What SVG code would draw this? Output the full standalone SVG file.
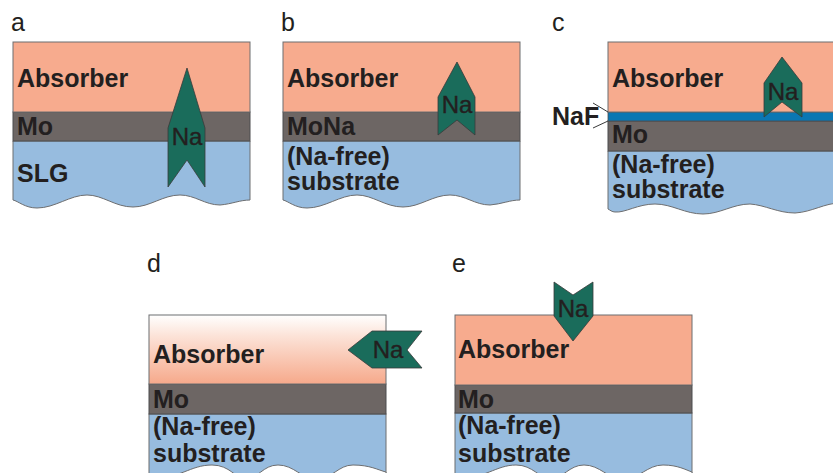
<svg xmlns="http://www.w3.org/2000/svg" width="833" height="473" viewBox="0 0 833 473">
<style>
.abs{fill:#f7ab8e;stroke:#6d6e70;stroke-width:1}
.mo{fill:#6d6664;stroke:#4d4d4f;stroke-width:1}
.sub{fill:#97bcdf;stroke:#6d6e70;stroke-width:1}
.naf{fill:#0a77b3;stroke:#4d4d4f;stroke-width:0.8}
.na{fill:#1a6c5b;stroke:#3a3a3a;stroke-width:0.8}
.wh{fill:#ffffff;stroke:#6d6e70;stroke-width:1}
.lbl{font-family:"Liberation Sans",Arial,sans-serif;font-weight:bold;font-size:25px;fill:#231f20}
.let{font-family:"Liberation Sans",Arial,sans-serif;font-size:25px;fill:#231f20}
.nat{font-family:"Liberation Sans",Arial,sans-serif;font-size:24px;fill:#231f20;text-anchor:middle;stroke:#231f20;stroke-width:0.4}
.ln{fill:none;stroke:#3a3a3a;stroke-width:1}
</style>
<defs>
<linearGradient id="gd" x1="0" y1="0" x2="0" y2="1">
<stop offset="0" stop-color="#ffffff"/>
<stop offset="0.3" stop-color="#fce3d8"/>
<stop offset="1" stop-color="#f6a98b"/>
</linearGradient>
</defs>

<g id="panel-a">
<text class="let" x="11" y="31">a</text>
<path class="sub" d="M13,141 H250 V200 C240,200 232,204 220,205 C205,205 195,195 180,195 C163,195 150,207 133,207 C115,207 103,195 87,195 C70,195 55,208 37,208 C25,208 18,201 13,200 Z"/>
<rect class="mo" x="13" y="112" width="237" height="29"/>
<rect class="abs" x="13" y="42" width="237" height="70"/>
<text class="lbl" x="17" y="87">Absorber</text>
<text class="lbl" x="17" y="135">Mo</text>
<text class="lbl" x="17" y="182">SLG</text>
<polygon class="na" points="187,68 205,128 205,187 187,160 168,187 168,128"/>
<text class="nat" x="187" y="145">Na</text>
</g>

<g id="panel-b">
<text class="let" x="281" y="31">b</text>
<path class="sub" d="M283,141 H520 V200 C510,200 502,204 490,205 C475,205 465,195 450,195 C433,195 420,207 403,207 C385,207 373,195 357,195 C340,195 325,208 307,208 C295,208 288,201 283,200 Z"/>
<rect class="mo" x="283" y="112" width="237" height="29"/>
<rect class="abs" x="283" y="42" width="237" height="70"/>
<text class="lbl" x="287" y="87">Absorber</text>
<text class="lbl" x="287" y="135">MoNa</text>
<text class="lbl" x="287" y="165">(Na-free)</text>
<text class="lbl" x="287" y="190">substrate</text>
<polygon class="na" points="457,62 475,97 475,135 457,120 438,135 438,97"/>
<text class="nat" x="457" y="113">Na</text>
</g>

<g id="panel-c">
<text class="let" x="552" y="31">c</text>
<path class="sub" d="M608,151 H840 V203 C825,203 812,212 795,213 C778,213 765,205 750,204 C733,204 720,214 703,214 C685,214 672,204 655,204 C638,204 625,213 615,212 C612,212 610,210 608,209 Z"/>
<rect class="mo" x="608" y="121" width="232" height="30"/>
<rect class="naf" x="608" y="112" width="232" height="9"/>
<rect class="abs" x="608" y="42" width="232" height="70"/>
<text class="lbl" x="612" y="87">Absorber</text>
<text class="lbl" x="612" y="143">Mo</text>
<text class="lbl" x="612" y="173">(Na-free)</text>
<text class="lbl" x="612" y="198">substrate</text>
<polygon class="na" points="782,57 802,83 802,117 782,102 764,117 764,83"/>
<text class="nat" x="783" y="100">Na</text>
<text class="lbl" x="552" y="125">NaF</text>
</g>

<g id="panel-d">
<text class="let" x="147" y="272">d</text>
<rect class="sub" x="149" y="414" width="237" height="70"/>
<path class="wh" d="M149,482 V479 C180,479 190,465 212,465 C230,465 236,479 245,479 C258,479 263,465 278,465 C294,465 302,479 315,479 C333,479 338,465 353,465 C370,465 378,470 386,472 V482 Z"/>
<rect class="mo" x="149" y="384" width="237" height="30"/>
<rect x="149" y="315" width="237" height="69" fill="url(#gd)" stroke="#6d6e70" stroke-width="1"/>
<text class="lbl" x="153" y="363">Absorber</text>
<text class="lbl" x="153" y="408">Mo</text>
<text class="lbl" x="153" y="435">(Na-free)</text>
<text class="lbl" x="153" y="462">substrate</text>
<polygon class="na" points="348,350 372,331 422,331 407,350 422,368 372,368"/>
<text class="nat" x="388" y="358">Na</text>
</g>

<g id="panel-e">
<text class="let" x="452" y="272">e</text>
<rect class="sub" x="455" y="413" width="237" height="70"/>
<path class="wh" d="M455,482 V479 C485,479 496,465 516,465 C533,465 540,479 550,479 C563,479 569,465 584,465 C600,465 608,479 622,479 C640,479 647,465 663,465 C678,465 686,470 692,472 V482 Z"/>
<rect class="mo" x="455" y="385" width="237" height="28"/>
<rect class="abs" x="455" y="315" width="237" height="70"/>
<text class="lbl" x="458" y="358">Absorber</text>
<text class="lbl" x="458" y="408">Mo</text>
<text class="lbl" x="458" y="434">(Na-free)</text>
<text class="lbl" x="458" y="462">substrate</text>
<polygon class="na" points="554,282 573,295 593,282 593,316 573,341 554,316"/>
<text class="nat" x="573" y="317">Na</text>
</g>

<g id="connectors">
<polyline class="ln" points="593,103 608,112"/>
<polyline class="ln" points="593,128 608,121"/>
</g>
</svg>
